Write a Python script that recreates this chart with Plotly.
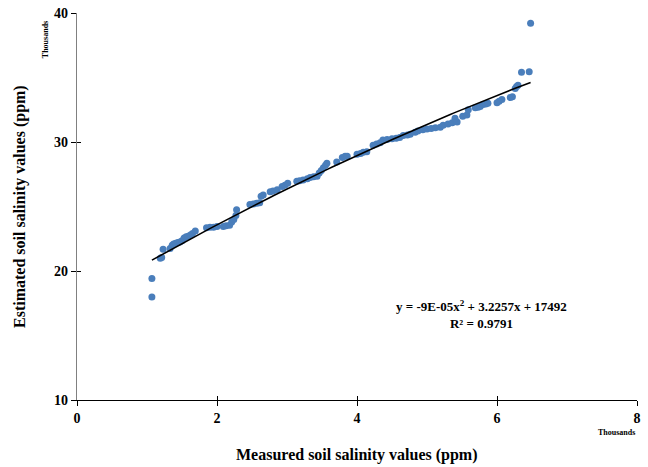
import numpy as np
import plotly.graph_objects as go

# Measured vs estimated soil salinity (thousands of ppm)
measured = [1.07, 1.07, 1.19, 1.21, 1.23, 1.33, 1.36, 1.38, 1.41, 1.44, 1.47,
            1.50, 1.53, 1.56, 1.59, 1.62, 1.65, 1.69, 1.85, 1.90, 1.95, 2.00,
            2.09, 2.13, 2.18, 2.21, 2.24, 2.27, 2.28, 2.47, 2.52, 2.57, 2.61,
            2.63, 2.66, 2.76, 2.80, 2.86, 2.93, 2.97, 3.01, 3.14, 3.18, 3.23,
            3.29, 3.33, 3.38, 3.43, 3.46, 3.49, 3.52, 3.55, 3.57, 3.71, 3.79,
            3.83, 3.86, 4.00, 4.05, 4.09, 4.14, 4.23, 4.28, 4.33, 4.37, 4.43,
            4.50, 4.56, 4.61, 4.66, 4.72, 4.76, 4.83, 4.87, 4.94, 5.00, 5.06,
            5.12, 5.19, 5.23, 5.30, 5.36, 5.43, 5.40, 5.51, 5.57, 5.59, 5.69,
            5.73, 5.76, 5.80, 5.84, 5.87, 6.00, 6.03, 6.07, 6.19, 6.22, 6.26,
            6.28, 6.30, 6.35, 6.46, 6.48]
estimated = [17.98, 19.42, 20.98, 21.05, 21.68, 21.75, 22.00, 22.10, 22.15, 22.20, 22.25,
             22.35, 22.55, 22.65, 22.70, 22.80, 22.90, 23.10, 23.35, 23.40, 23.40, 23.45,
             23.45, 23.50, 23.55, 23.80, 24.00, 24.30, 24.75, 25.15, 25.20, 25.25, 25.30,
             25.80, 25.90, 26.15, 26.20, 26.30, 26.55, 26.65, 26.80, 26.95, 27.00, 27.05,
             27.15, 27.25, 27.30, 27.35, 27.60, 27.80, 28.00, 28.20, 28.35, 28.45, 28.80,
             28.90, 28.90, 29.05, 29.10, 29.20, 29.25, 29.75, 29.85, 29.95, 30.15, 30.20,
             30.25, 30.30, 30.35, 30.50, 30.55, 30.60, 30.75, 30.85, 30.95, 31.00, 31.05,
             31.10, 31.15, 31.30, 31.40, 31.50, 31.55, 31.85, 32.00, 32.10, 32.50, 32.65,
             32.70, 32.75, 32.90, 32.95, 33.00, 33.05, 33.15, 33.30, 33.45, 33.50, 34.15,
             34.30, 34.40, 35.40, 35.45, 39.20]

# Trendline coefficients (ppm): y = a x^2 + b x + c
coef_a, coef_b, coef_c = -9e-05, 3.2257, 17492
x_tick_vals = [0, 2, 4, 6, 8]
y_tick_vals = [10, 20, 30, 40]

xs = np.linspace(min(measured), max(measured), 100)
xp = xs * 1000
ys = (coef_a * xp**2 + coef_b * xp + coef_c) / 1000

SERIF = "Liberation Serif"
fig = go.Figure()
fig.add_trace(go.Scatter(x=measured, y=estimated, mode="markers",
                         marker=dict(color="#4a7ebb", size=7, line=dict(width=0)),
                         showlegend=False))
fig.add_trace(go.Scatter(x=xs, y=ys, mode="lines",
                         line=dict(color="black", width=1.6), showlegend=False))
# invisible trace on overlay axes so inside ticks render
fig.add_trace(go.Scatter(x=[None], y=[None], xaxis="x2", yaxis="y2", showlegend=False))

tickfont = dict(family=SERIF, size=14, color="black", weight="bold")
fig.update_layout(
    width=648, height=467,
    margin=dict(l=77, r=11, t=13, b=67, autoexpand=False),
    paper_bgcolor="white", plot_bgcolor="white",
    xaxis=dict(range=[0, 8], tickvals=x_tick_vals, showgrid=False, zeroline=False,
               showline=True, linecolor="black", linewidth=1.2, automargin=False,
               ticks="outside", ticklen=5, tickcolor="black", tickwidth=1.2,
               tickfont=tickfont),
    yaxis=dict(range=[10, 40], tickvals=y_tick_vals, showgrid=False, zeroline=False,
               showline=True, linecolor="#808080", linewidth=1.2, automargin=False,
               ticks="outside", ticklen=5, tickcolor="black", tickwidth=1.2,
               tickfont=tickfont),
    xaxis2=dict(range=[0, 8], tickvals=x_tick_vals, overlaying="x", automargin=False,
                showgrid=False, zeroline=False, showticklabels=False,
                ticks="inside", ticklen=4, tickcolor="black", tickwidth=1.2),
    yaxis2=dict(range=[10, 40], tickvals=y_tick_vals, overlaying="y", automargin=False,
                showgrid=False, zeroline=False, showticklabels=False,
                ticks="inside", ticklen=4, tickcolor="black", tickwidth=1.2),
    font=dict(family=SERIF, color="black"),
)

def note(text, x, y, size, angle=0):
    fig.add_annotation(x=x, y=y, xref="paper", yref="paper", showarrow=False,
                       xanchor="center", yanchor="middle", textangle=angle,
                       text=text, align="center",
                       font=dict(family=SERIF, size=size, color="black"))

note("<b>Measured soil salinity values (ppm)</b>", 0.5, -0.142, 16)
note("<b>Estimated soil salinity values (ppm)</b>", -0.102, 0.501, 16, -90)
note("<b>y = -9E-05x<sup>2</sup> + 3.2257x + 17492<br>R² = 0.9791</b>", 0.722, 0.22, 13)
note("<b>Thousands</b>", -0.057, 0.93, 8, -90)
note("<b>Thousands</b>", 0.964, -0.085, 8)

fig.write_html("out.html", config={"displayModeBar": False},
               post_script="document.body.style.margin='0';")
